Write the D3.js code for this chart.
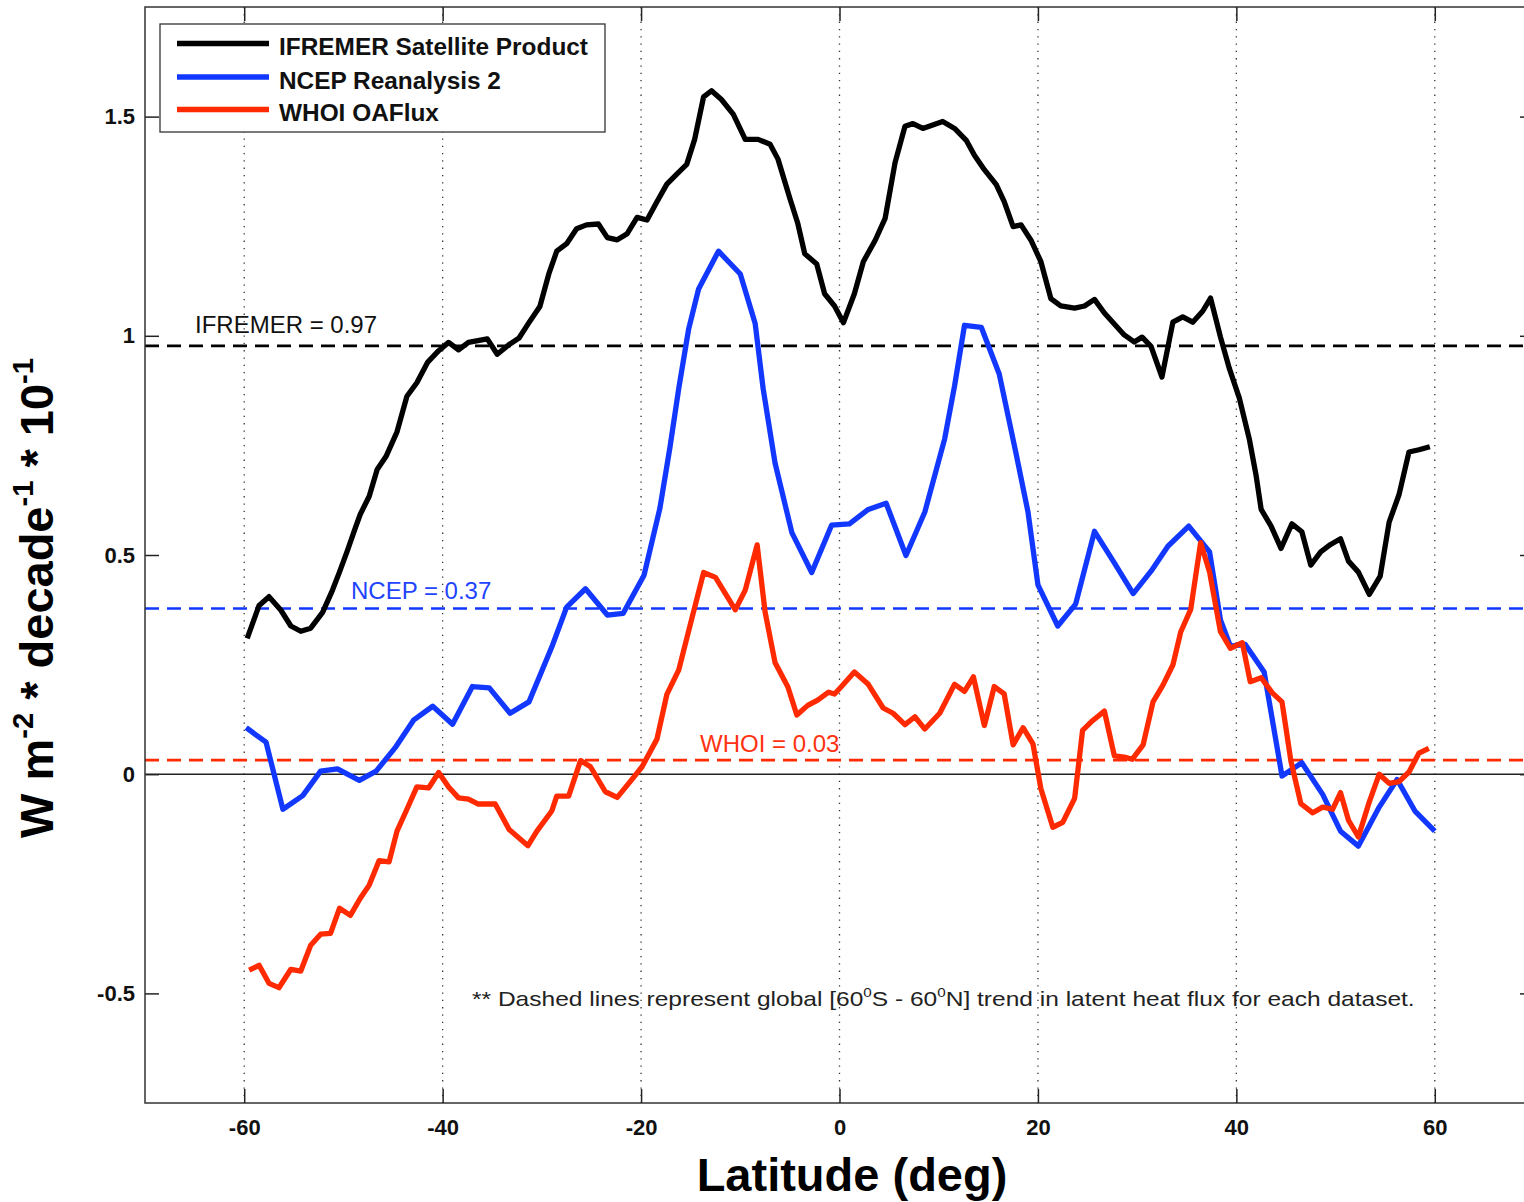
<!DOCTYPE html>
<html>
<head>
<meta charset="utf-8">
<script src="https://cdn.jsdelivr.net/npm/d3@7"></script>
<style>
  body { margin: 0; background: #fff; }
  text { font-family: "Liberation Sans", Arial, sans-serif; }
</style>
</head>
<body>
<svg id="chart" width="1524" height="1202"></svg>

<script>

  // IFREMER satellite product (black)
  var ifremerLat = [-59.7, -58.5, -57.5, -56.3, -55.3, -54.3, -53.3, -52.1, -51.1, -50.4, -49.6, -48.8, -48.3, -47.4, -46.6, -45.7, -44.6, -43.6, -42.6, -41.5, -40.4, -39.4, -38.4, -37.4, -35.5, -34.5, -33.3, -32.3, -31.3, -30.2, -29.3, -28.5, -27.5, -26.5, -25.5, -24.3, -23.4, -22.4, -21.4, -20.4, -19.4, -18.4, -17.4, -16.4, -15.4, -14.6, -13.7, -12.9, -11.9, -10.7, -9.5, -8.2, -7.0, -6.2, -5.0, -4.2, -3.5, -2.3, -1.5, -0.5, 0.4, 1.5, 2.4, 3.6, 4.6, 5.6, 6.6, 7.4, 8.4, 9.4, 10.4, 11.6, 12.8, 13.6, 14.6, 15.8, 16.6, 17.5, 18.3, 19.3, 20.3, 21.3, 22.3, 23.7, 24.7, 25.7, 26.7, 27.7, 28.7, 29.7, 30.5, 31.4, 32.5, 33.6, 34.6, 35.6, 36.6, 37.4, 38.4, 39.3, 40.3, 41.3, 42.0, 42.5, 43.5, 44.5, 45.6, 46.6, 47.5, 48.5, 49.5, 50.5, 51.3, 52.3, 53.4, 54.5, 55.4, 56.4, 57.4, 58.4, 59.5];
  var ifremerVal = [0.31, 0.385, 0.405, 0.374, 0.338, 0.326, 0.333, 0.369, 0.42, 0.461, 0.51, 0.562, 0.593, 0.634, 0.695, 0.725, 0.781, 0.862, 0.893, 0.94, 0.966, 0.985, 0.968, 0.985, 0.993, 0.958, 0.98, 0.995, 1.03, 1.067, 1.141, 1.193, 1.21, 1.244, 1.253, 1.255, 1.224, 1.219, 1.233, 1.27, 1.264, 1.306, 1.346, 1.369, 1.391, 1.448, 1.545, 1.559, 1.539, 1.505, 1.448, 1.448, 1.437, 1.403, 1.313, 1.256, 1.187, 1.164, 1.096, 1.068, 1.03, 1.096, 1.169, 1.218, 1.268, 1.395, 1.478, 1.484, 1.473, 1.481, 1.489, 1.473, 1.445, 1.412, 1.379, 1.345, 1.306, 1.249, 1.253, 1.218, 1.169, 1.085, 1.068, 1.063, 1.068, 1.083, 1.052, 1.027, 1.002, 0.986, 0.997, 0.976, 0.906, 1.031, 1.043, 1.031, 1.056, 1.086, 0.997, 0.925, 0.858, 0.765, 0.68, 0.604, 0.566, 0.515, 0.571, 0.553, 0.477, 0.507, 0.524, 0.537, 0.486, 0.461, 0.41, 0.452, 0.575, 0.638, 0.735, 0.74, 0.747];

  // NCEP reanalysis 2 (blue)
  var ncepLat = [-59.8, -57.8, -56.1, -54.1, -52.3, -50.6, -48.4, -46.7, -44.7, -42.9, -41.0, -39.0, -37.0, -35.3, -33.2, -31.3, -29.0, -27.5, -25.6, -23.4, -21.8, -19.7, -18.1, -17.1, -16.2, -15.2, -14.2, -12.2, -10.0, -8.5, -7.7, -6.5, -4.8, -2.8, -0.8, 1.0, 2.9, 4.7, 6.7, 8.6, 10.6, 11.6, 12.6, 14.3, 16.1, 17.8, 19.0, 20.0, 22.0, 23.8, 25.7, 27.7, 29.6, 31.4, 33.1, 35.2, 37.3, 38.4, 39.4, 40.9, 42.8, 44.6, 46.6, 48.7, 50.5, 52.3, 54.4, 56.2, 58.0, 60.0];
  var ncepVal = [0.106, 0.073, -0.08, -0.049, 0.007, 0.012, -0.014, 0.007, 0.063, 0.124, 0.155, 0.114, 0.2, 0.197, 0.139, 0.165, 0.29, 0.381, 0.423, 0.363, 0.367, 0.454, 0.607, 0.744, 0.88, 1.016, 1.107, 1.193, 1.141, 1.028, 0.88, 0.71, 0.551, 0.46, 0.568, 0.571, 0.604, 0.618, 0.499, 0.598, 0.765, 0.886, 1.024, 1.019, 0.913, 0.731, 0.598, 0.432, 0.338, 0.388, 0.554, 0.482, 0.412, 0.463, 0.52, 0.566, 0.507, 0.352, 0.292, 0.296, 0.233, -0.004, 0.026, -0.046, -0.13, -0.164, -0.075, -0.012, -0.084, -0.13];

  // WHOI OAFlux (red)
  var whoiLat = [-59.5, -58.5, -57.5, -56.5, -55.3, -54.3, -53.3, -52.3, -51.3, -50.4, -49.3, -48.3, -47.4, -46.4, -45.4, -44.6, -43.6, -42.6, -41.4, -40.4, -39.4, -38.4, -37.4, -36.4, -34.7, -33.3, -31.4, -30.5, -29.0, -28.5, -27.3, -26.1, -25.1, -23.6, -22.4, -21.1, -19.9, -18.4, -17.4, -16.2, -15.1, -13.7, -12.5, -10.5, -9.5, -8.3, -7.5, -6.5, -5.2, -4.3, -3.2, -2.2, -1.1, -0.5, 0.2, 1.5, 2.9, 4.4, 5.4, 6.6, 7.6, 8.6, 10.1, 11.6, 12.6, 13.5, 14.6, 15.6, 16.6, 17.5, 18.5, 19.5, 20.3, 21.5, 22.5, 23.7, 24.5, 25.5, 26.7, 27.7, 28.7, 29.5, 30.6, 31.6, 32.6, 33.6, 34.4, 35.4, 36.4, 37.3, 38.4, 39.4, 40.6, 41.4, 42.5, 43.6, 44.6, 45.5, 46.5, 47.7, 48.7, 49.7, 50.5, 51.3, 52.3, 53.4, 54.4, 55.4, 56.4, 57.4, 58.4, 59.4];
  var whoiVal = [-0.447, -0.436, -0.477, -0.487, -0.445, -0.449, -0.39, -0.365, -0.363, -0.306, -0.322, -0.283, -0.253, -0.197, -0.2, -0.13, -0.08, -0.029, -0.031, 0.004, -0.029, -0.054, -0.057, -0.068, -0.068, -0.126, -0.163, -0.13, -0.084, -0.05, -0.05, 0.031, 0.017, -0.04, -0.053, -0.017, 0.017, 0.08, 0.182, 0.238, 0.336, 0.46, 0.449, 0.375, 0.42, 0.523, 0.37, 0.255, 0.199, 0.135, 0.157, 0.169, 0.187, 0.183, 0.2, 0.233, 0.205, 0.151, 0.139, 0.113, 0.131, 0.103, 0.139, 0.205, 0.189, 0.222, 0.111, 0.2, 0.183, 0.067, 0.106, 0.069, -0.033, -0.121, -0.11, -0.055, 0.1, 0.122, 0.144, 0.042, 0.039, 0.034, 0.067, 0.165, 0.203, 0.249, 0.325, 0.376, 0.528, 0.461, 0.325, 0.287, 0.3, 0.211, 0.22, 0.186, 0.165, 0.03, -0.067, -0.088, -0.075, -0.08, -0.042, -0.105, -0.143, -0.063, 0.0, -0.021, -0.017, 0.005, 0.048, 0.059];

  // global [60S - 60N] means (dashed lines)
  var meanVals = [0.977, 0.378, 0.032];
  var meanLabels = ["IFREMER = 0.97", "NCEP = 0.37", "WHOI = 0.03"];
  var legendNames = ["IFREMER Satellite Product", "NCEP Reanalysis 2", "WHOI OAFlux"];
  var colors = ["#000000", "#1238ff", "#ff2a00"];
  var labelColors = ["#111111", "#2244ff", "#ff3311"];

  var xTicks = [-60, -40, -20, 0, 20, 40, 60];
  var yTicks = [-0.5, 0, 0.5, 1, 1.5];

  // plot box (window.top is taken, so no bare "top")
  var boxL = 145, boxR = 1534, boxT = 7, boxB = 1103;

  var svg = d3.select("#chart");

  var x = d3.scaleLinear().domain([-70, 70]).range([boxL, boxR]);
  var y = d3.scaleLinear().domain([-0.75, 1.75]).range([boxB, boxT]);

  // dotted grid on x ticks
  svg.append("g").selectAll("line").data(xTicks).enter()
    .append("line")
    .attr("x1", function(d) { return x(d); })
    .attr("x2", function(d) { return x(d); })
    .attr("y1", boxT).attr("y2", boxB)
    .attr("stroke", "#333").attr("stroke-width", 1.3)
    .attr("stroke-dasharray", "1.3,6");

  // zero line
  svg.append("line")
    .attr("x1", boxL).attr("x2", boxR)
    .attr("y1", y(0)).attr("y2", y(0))
    .attr("stroke", "#222").attr("stroke-width", 1.4);

  // dashed mean lines
  svg.append("g").selectAll("line").data(meanVals).enter()
    .append("line")
    .attr("x1", boxL).attr("x2", boxR)
    .attr("y1", function(d) { return y(d); })
    .attr("y2", function(d) { return y(d); })
    .attr("stroke", function(d, i) { return colors[i]; })
    .attr("stroke-width", 2.6)
    .attr("stroke-dasharray", "14,8");

  // labels for mean lines
  var meanLabelPos = [[195, 333], [351, 599], [700, 752]];
  svg.append("g").selectAll("text").data(meanLabels).enter()
    .append("text")
    .attr("x", function(d, i) { return meanLabelPos[i][0]; })
    .attr("y", function(d, i) { return meanLabelPos[i][1]; })
    .attr("font-size", 24)
    .attr("font-weight", 300)
    .attr("fill", function(d, i) { return labelColors[i]; })
    .text(function(d) { return d; });

  // data lines
  var line = d3.line()
    .x(function(d) { return x(d[0]); })
    .y(function(d) { return y(d[1]); });

  var series = [d3.zip(ifremerLat, ifremerVal), d3.zip(ncepLat, ncepVal), d3.zip(whoiLat, whoiVal)];

  svg.append("g").selectAll("path").data(series).enter()
    .append("path")
    .attr("d", line)
    .attr("fill", "none")
    .attr("stroke", function(d, i) { return colors[i]; })
    .attr("stroke-width", 5.3)
    .attr("stroke-linejoin", "round");

  // axes, ticks pointing inward
  var fmt = function(d) { return String(d); };

  var xAxis = svg.append("g")
    .attr("transform", "translate(0," + boxB + ")")
    .call(d3.axisBottom(x).tickValues(xTicks).tickSize(-14).tickSizeOuter(0).tickPadding(16).tickFormat(fmt));
  var xTop = svg.append("g")
    .attr("transform", "translate(0," + boxT + ")")
    .call(d3.axisTop(x).tickValues(xTicks).tickSize(-14).tickSizeOuter(0).tickFormat(""));
  var yAxis = svg.append("g")
    .attr("transform", "translate(" + boxL + ",0)")
    .call(d3.axisLeft(y).tickValues(yTicks).tickSize(-14).tickSizeOuter(0).tickPadding(10).tickFormat(fmt));
  var yRight = svg.append("g")
    .attr("transform", "translate(" + boxR + ",0)")
    .call(d3.axisRight(y).tickValues(yTicks).tickSize(-14).tickSizeOuter(0).tickFormat(""));

  [xAxis, xTop, yAxis, yRight].forEach(function(g) {
    g.select(".domain").remove();
    g.selectAll(".tick line").attr("stroke", "#222").attr("stroke-width", 1.5);
    g.selectAll(".tick text")
      .attr("font-family", "Liberation Sans, Arial, sans-serif")
      .attr("font-size", 22)
      .attr("font-weight", "bold")
      .attr("fill", "#111");
  });

  // frame
  svg.append("rect")
    .attr("x", boxL).attr("y", boxT)
    .attr("width", boxR - boxL).attr("height", boxB - boxT)
    .attr("fill", "none").attr("stroke", "#333").attr("stroke-width", 1.5);

  // legend
  var legend = svg.append("g");
  legend.append("rect")
    .attr("x", 160).attr("y", 24).attr("width", 445).attr("height", 108)
    .attr("fill", "#fff").attr("stroke", "#333").attr("stroke-width", 1.3);
  var legendY = [43.5, 77, 109.5];
  legendNames.forEach(function(name, i) {
    legend.append("line")
      .attr("x1", 177).attr("x2", 269)
      .attr("y1", legendY[i]).attr("y2", legendY[i])
      .attr("stroke", colors[i]).attr("stroke-width", 5.5);
    legend.append("text")
      .attr("x", 279).attr("y", legendY[i] + 11.5)
      .attr("font-size", 24.4).attr("font-weight", "bold")
      .attr("fill", "#111")
      .text(name);
  });

  // text with superscripts
  var richText = function(sel, parts, size) {
    parts.forEach(function(p) {
      var t = sel.append("tspan").text(p[0]);
      if (p[1]) {
        t.attr("font-size", size * 0.62).attr("dy", -size * 0.42);
      } else {
        t.attr("font-size", size).attr("dy", p[2] ? size * 0.42 : 0);
      }
    });
  };

  // note at the bottom of the plot
  var note = svg.append("text").attr("fill", "#222").attr("font-weight", 300);
  richText(note, [["** Dashed lines represent global [60"], ["0", true], ["S - 60", false, true], ["0", true], ["N] trend in latent heat flux for each dataset.", false, true]], 21);
  var noteW = note.node().getComputedTextLength();
  note.attr("transform", "translate(472,1006) scale(" + (943 / noteW) + ",1)");

  // axis titles
  svg.append("text")
    .attr("x", 852).attr("y", 1191)
    .attr("text-anchor", "middle")
    .attr("font-size", 47).attr("font-weight", "bold")
    .text("Latitude (deg)");

  var ylab = svg.append("text")
    .attr("text-anchor", "middle")
    .attr("font-weight", "bold")
    .attr("transform", "translate(53,598) rotate(-90)");
  richText(ylab, [["W m"], ["-2", true], [" * decade", false, true], ["-1", true], [" * 10", false, true], ["-1", true]], 47);

</script>
</body>
</html>
